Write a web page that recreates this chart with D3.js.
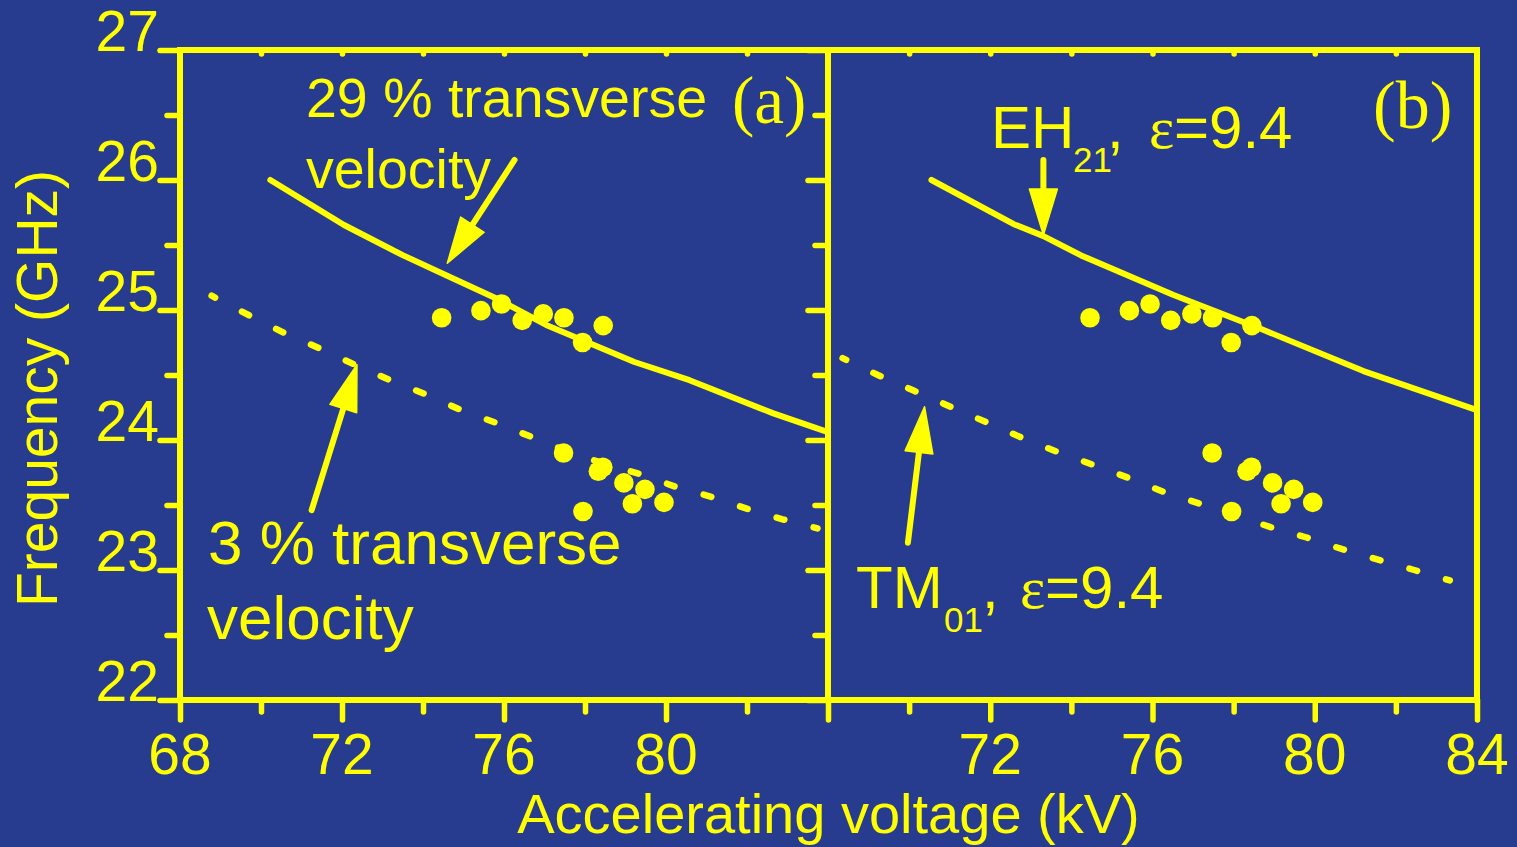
<!DOCTYPE html>
<html><head><meta charset="utf-8">
<script src="https://cdn.jsdelivr.net/npm/d3@7"></script>
<style>html,body{margin:0;padding:0;background:#273b8f;overflow:hidden}svg{display:block}</style>
</head><body><svg id="c" width="1517" height="847"></svg>
<script>
// ---- data ----
const measVoltage   = [74.46, 75.43, 75.94, 76.45, 76.97, 77.48, 77.94, 78.45, 77.47, 78.33, 78.44, 78.96, 79.17, 79.48, 79.95, 77.95];
const measFrequency = [24.94, 24.995, 25.046, 24.92, 24.97, 24.94, 24.75, 24.88, 23.90, 23.76, 23.79, 23.67, 23.51, 23.62, 23.52, 23.45];

const curve29Voltage = [70.23, 72.05, 73.51, 74.65, 75.80, 77.04, 79.22, 80.58, 82.65, 84.0];
const curve29Freq    = [26.0, 25.654, 25.42, 25.256, 25.09, 24.885, 24.60, 24.46, 24.205, 24.06];

const curve3Voltage = [68.78, 69.64, 70.53, 71.41, 72.31, 73.19, 74.08, 74.94, 75.82, 76.71, 77.59, 78.46, 79.33, 80.24, 81.15, 82.01, 82.88, 83.74];
const curve3Freq    = [25.11, 24.97, 24.83, 24.71, 24.58, 24.46, 24.35, 24.23, 24.13, 24.02, 23.91, 23.82, 23.74, 23.64, 23.56, 23.47, 23.39, 23.32];

const eh21Voltage = [70.55, 72.58, 73.30, 74.24, 76.52, 78.71, 81.20, 84.0];
const eh21Freq    = [26.0, 25.66, 25.57, 25.42, 25.115, 24.85, 24.53, 24.23];

const tm01Voltage = [68.36, 69.23, 70.11, 70.99, 71.88, 72.76, 73.64, 74.53, 75.40, 76.28, 77.17, 78.04, 78.91, 79.80, 80.68, 81.56, 82.45, 83.33];
const tm01Freq    = [24.63, 24.50, 24.38, 24.26, 24.14, 24.02, 23.91, 23.81, 23.71, 23.60, 23.51, 23.42, 23.33, 23.25, 23.16, 23.08, 23.00, 22.92];

const xTickLabelsA = [68, 72, 76, 80];
const xTickLabelsB = [72, 76, 80, 84];
const xMajorA = [68, 72, 76, 80, 84];
const xMajorB = [72, 76, 80, 84];
const xMinor = [70, 74, 78, 82];
const xTop = [70, 72, 74, 76, 78, 80, 82];
const yTickLabels = [22, 23, 24, 25, 26, 27];
const yMinor = [22.5, 23.5, 24.5, 25.5, 26.5];

// arrows: [tailV, tailF, tipV, tipF]
const arrowA29 = [76.26, 26.154, 74.60, 25.36];
const arrowA3  = [71.25, 23.46, 72.37, 24.58];
const arrowEH  = [73.31, 26.154, 73.31, 25.577];
const arrowTM  = [69.97, 23.21, 70.38, 24.256];

// ---- drawing ----
const YEL = '#ffff00';
const SANS = '"Liberation Sans", Arial, Helvetica, sans-serif';
const SERIF = '"Liberation Serif", "Times New Roman", serif';
const svg = d3.select('#c');
svg.append('rect').attr('width', 1517).attr('height', 847).attr('fill', '#273b8f');

const xA = d3.scaleLinear().domain([68, 84]).range([180, 828]);
const xB = d3.scaleLinear().domain([68, 84]).range([828, 1477]);
const y = d3.scaleLinear().domain([22, 27]).range([700, 50]);

function styleAxis(g) {
  g.select('.domain').remove();
  g.selectAll('text').remove();
  g.selectAll('line').attr('stroke', YEL).attr('stroke-width', 5.5).attr('stroke-linecap', 'round');
}
function addAxis(axis, tx, ty) {
  svg.append('g').attr('transform', `translate(${tx},${ty})`).call(axis).call(styleAxis);
}

// ticks
addAxis(d3.axisBottom(xA).tickValues(xMajorA).tickSize(20), 0, y(22));
addAxis(d3.axisBottom(xA).tickValues(xMinor).tickSize(12), 0, y(22));
addAxis(d3.axisBottom(xA).tickValues(xTop).tickSize(4), 0, y(27));
addAxis(d3.axisBottom(xB).tickValues(xMajorB).tickSize(20), 0, y(22));
addAxis(d3.axisBottom(xB).tickValues(xMinor).tickSize(12), 0, y(22));
addAxis(d3.axisBottom(xB).tickValues(xTop).tickSize(4), 0, y(27));
addAxis(d3.axisLeft(y).tickValues(yTickLabels).tickSize(20), xA(68), 0);
addAxis(d3.axisLeft(y).tickValues(yMinor).tickSize(13), xA(68), 0);
addAxis(d3.axisLeft(y).tickValues(yTickLabels).tickSize(20), xA(84), 0);
addAxis(d3.axisLeft(y).tickValues(yMinor).tickSize(13), xA(84), 0);

// frames
const frame = svg.append('g').attr('stroke', YEL).attr('stroke-width', 6).attr('stroke-linecap', 'square').attr('fill', 'none');
frame.append('path').attr('d', `M${xA(68)},${y(27)}H${xB(84)}V${y(22)}H${xA(68)}Z`);
frame.append('line').attr('x1', xA(84)).attr('x2', xA(84)).attr('y1', y(27)).attr('y2', y(22));

// curves
function drawSolid(xs, vs, fs) {
  const pts = vs.map((v, i) => [v, fs[i]]);
  svg.append('path').datum(pts)
    .attr('d', d3.line().x(d => xs(d[0])).y(d => y(d[1])))
    .attr('fill', 'none').attr('stroke', YEL).attr('stroke-width', 6)
    .attr('stroke-linecap', 'round').attr('stroke-linejoin', 'round');
}
function drawDotted(xs, vs, fs) {
  const pts = vs.map((v, i) => [v, fs[i]]);
  const p = svg.append('path').datum(pts)
    .attr('d', d3.line().x(d => xs(d[0])).y(d => y(d[1])))
    .attr('fill', 'none').attr('stroke', YEL).attr('stroke-width', 6.5)
    .attr('stroke-linecap', 'round');
  const L = p.node().getTotalLength();
  const period = L / (pts.length - 1);
  const dash = 8;
  p.attr('stroke-dasharray', `${dash} ${period - dash}`).attr('stroke-dashoffset', dash / 2);
}
drawSolid(xA, curve29Voltage, curve29Freq);
drawDotted(xA, curve3Voltage, curve3Freq);
drawSolid(xB, eh21Voltage, eh21Freq);
drawDotted(xB, tm01Voltage, tm01Freq);

// measured points in both panels
[xA, xB].forEach(xs => {
  svg.append('g').selectAll('circle').data(measVoltage).join('circle')
    .attr('cx', d => xs(d)).attr('cy', (d, i) => y(measFrequency[i]))
    .attr('r', 9.8).attr('fill', YEL);
});

// arrows
function drawArrow(xs, a) {
  const tx = xs(a[0]), ty = y(a[1]), hx = xs(a[2]), hy = y(a[3]);
  const len = Math.hypot(hx - tx, hy - ty);
  const ux = (hx - tx) / len, uy = (hy - ty) / len;
  const headL = 46, headW = 14;
  const bx = hx - ux * headL, by = hy - uy * headL;
  svg.append('line').attr('x1', tx).attr('y1', ty).attr('x2', bx + ux * 2).attr('y2', by + uy * 2)
    .attr('stroke', YEL).attr('stroke-width', 6).attr('stroke-linecap', 'round');
  svg.append('path')
    .attr('d', `M${hx},${hy}L${bx - uy * headW},${by + ux * headW}L${bx + uy * headW},${by - ux * headW}Z`)
    .attr('fill', YEL).attr('stroke', YEL).attr('stroke-width', 1.5).attr('stroke-linejoin', 'round');
}
drawArrow(xA, arrowA29);
drawArrow(xA, arrowA3);
drawArrow(xB, arrowEH);
drawArrow(xB, arrowTM);

// tick labels
const lab = svg.append('g').attr('fill', YEL).attr('font-family', SANS);
lab.selectAll('.xa').data(xTickLabelsA).join('text').attr('class', 'xa')
  .attr('x', d => xA(d)).attr('y', 774).attr('text-anchor', 'middle').attr('font-size', 57).text(d => d);
lab.selectAll('.xb').data(xTickLabelsB).join('text').attr('class', 'xb')
  .attr('x', d => xB(d)).attr('y', 774).attr('text-anchor', 'middle').attr('font-size', 57).text(d => d);
lab.selectAll('.yl').data(yTickLabels).join('text').attr('class', 'yl')
  .attr('x', xA(68) - 21).attr('y', d => y(d) + 1).attr('text-anchor', 'end').attr('font-size', 57).text(d => d);

// axis titles
lab.append('text').attr('x', (xA(68) + xB(84)) / 2).attr('y', 833).attr('text-anchor', 'middle')
  .attr('font-size', 56).text('Accelerating voltage (kV)');
lab.append('text').attr('transform', 'translate(57,388.5) rotate(-90)').attr('text-anchor', 'middle')
  .attr('font-size', 57).text('Frequency (GHz)');

// annotations
const ann = svg.append('g').attr('fill', YEL).attr('font-family', SANS);
ann.append('text').attr('x', 306).attr('y', 117).attr('font-size', 55.5).text('29 % transverse');
ann.append('text').attr('x', 306).attr('y', 188).attr('font-size', 55.5).text('velocity');
ann.append('text').attr('x', 732).attr('y', 123).attr('font-size', 67).attr('font-family', SERIF).text('(a)');
ann.append('text').attr('x', 208).attr('y', 564).attr('font-size', 62).text('3 % transverse');
ann.append('text').attr('x', 207).attr('y', 639).attr('font-size', 62).text('velocity');
ann.append('text').attr('x', 1373).attr('y', 128).attr('font-size', 68).attr('font-family', SERIF).text('(b)');

function modeLabel(x0, base, name, sub, subX, commaX, epsX, valX) {
  const t = ann.append('text').attr('font-size', 60);
  t.append('tspan').attr('x', x0).attr('y', base).text(name);
  t.append('tspan').attr('x', subX).attr('y', base + 24).attr('font-size', 35).text(sub);
  t.append('tspan').attr('x', commaX).attr('y', base).text(',');
  t.append('tspan').attr('x', epsX).attr('y', base).attr('font-family', SERIF).text('ε');
  t.append('tspan').attr('x', valX).attr('y', base).text('=9.4');
}
modeLabel(991, 148, 'EH', '21', 1073, 1107, 1149, 1174);
modeLabel(856, 608, 'TM', '01', 944, 982, 1020, 1045);
</script>
</body></html>
